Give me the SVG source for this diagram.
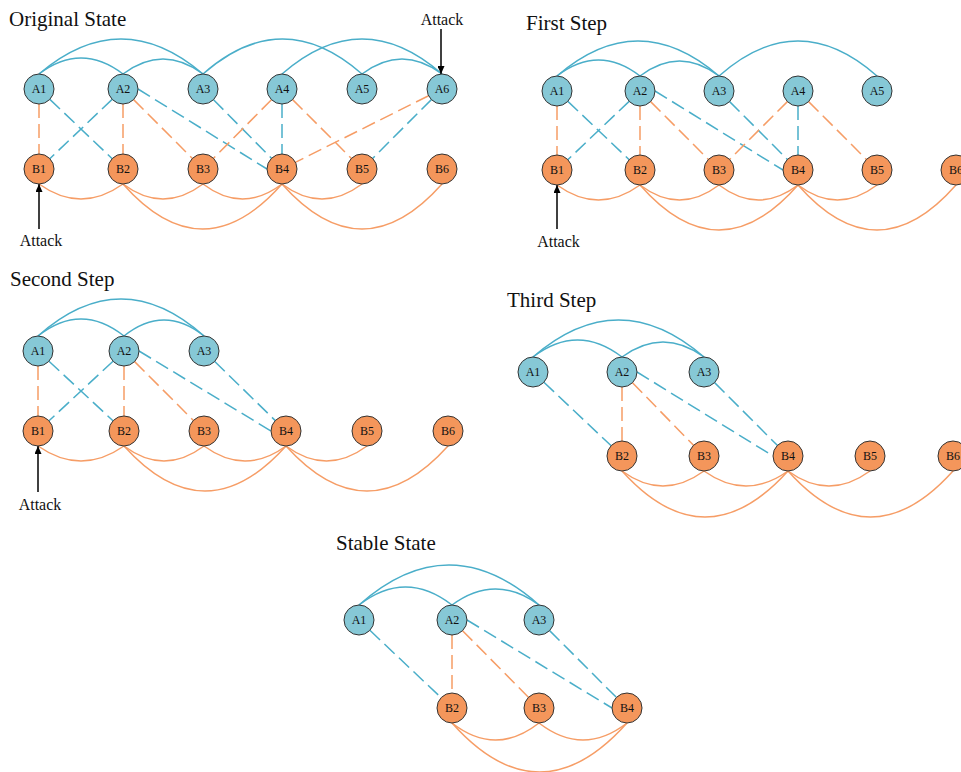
<svg xmlns="http://www.w3.org/2000/svg" width="961" height="772" viewBox="0 0 961 772" font-family="'Liberation Serif', 'Times New Roman', Times, 'DejaVu Serif', serif">
<defs>
<marker id="ah" markerUnits="userSpaceOnUse" markerWidth="9" markerHeight="7" refX="8" refY="3.5" orient="auto">
<path d="M0,0 L8,3.5 L0,7 z" fill="#000"/>
</marker>
<style>
.na{fill:#86C8D6;stroke:#333;stroke-width:1}
.nb{fill:#F4965B;stroke:#333;stroke-width:1}
text{font-family:'Liberation Serif','Times New Roman',Times,'DejaVu Serif',serif}
.lbl{font-size:12px;text-anchor:middle;fill:#111}
.eb{stroke:#4AAEC9;fill:none;stroke-width:1.5}
.eo{stroke:#F69D66;fill:none;stroke-width:1.5}
.dl{stroke-dasharray:14 6;stroke-dashoffset:5}
.ew{stroke-dashoffset:0}
.ttl{font-size:21px;fill:#111}
.atk{font-size:16px;text-anchor:middle;fill:#111}
.arr{stroke:#000;stroke-width:1.5;fill:none;marker-end:url(#ah)}
</style>
</defs>
<rect width="961" height="772" fill="#fff"/>

<!-- Panel 1: Original State -->
<g id="p1">
<text class="ttl" x="9" y="26">Original State</text>
<g id="p1-connectors">
<path class="eb" d="M39,74 Q81,42 123,74"/>
<path class="eb" d="M39,74 Q121,4 203,74"/>
<path class="eb" d="M123,74 Q163,44 203,74"/>
<path class="eb" d="M203,74 Q282.5,4 362,74"/>
<path class="eb" d="M282,74 Q362,4 442,74"/>
<path class="eb" d="M362,74 Q402,44 442,74"/>
<path class="eo" d="M39,184 Q81,214 123,184"/>
<path class="eo" d="M123,184 Q163,214 203,184"/>
<path class="eo" d="M203,184 Q242.5,214 282,184"/>
<path class="eo" d="M123,184 Q202.5,274 282,184"/>
<path class="eo" d="M282,184 Q322,214 362,184"/>
<path class="eo" d="M282,184 Q362,274 442,184"/>
<line class="eo dl" x1="39" y1="89" x2="39" y2="169"/>
<line class="eb dl" x1="39" y1="89" x2="123" y2="169"/>
<line class="eb dl" x1="123" y1="89" x2="39" y2="169"/>
<line class="eo dl" x1="123" y1="89" x2="123" y2="169"/>
<line class="eo dl" x1="123" y1="89" x2="203" y2="169"/>
<line class="eb dl ew" x1="138" y1="89" x2="267" y2="169"/>
<line class="eb dl" x1="203" y1="89" x2="282" y2="169"/>
<line class="eo dl" x1="282" y1="89" x2="203" y2="169"/>
<line class="eb dl" x1="282" y1="89" x2="282" y2="169"/>
<line class="eo dl" x1="282" y1="89" x2="362" y2="169"/>
<line class="eo dl" x1="442" y1="89" x2="282" y2="169"/>
<line class="eb dl" x1="442" y1="89" x2="362" y2="169"/>
<line class="arr" x1="441" y1="29" x2="441" y2="74"/>
<line class="arr" x1="39" y1="229" x2="39" y2="184"/>
</g>
<text class="atk" x="442" y="25">Attack</text>
<text class="atk" x="41" y="246">Attack</text>
<g id="p1-A1"><circle class="na" cx="39" cy="89" r="15"/><text class="lbl" x="39" y="93">A1</text></g>
<g id="p1-A2"><circle class="na" cx="123" cy="89" r="15"/><text class="lbl" x="123" y="93">A2</text></g>
<g id="p1-A3"><circle class="na" cx="203" cy="89" r="15"/><text class="lbl" x="203" y="93">A3</text></g>
<g id="p1-A4"><circle class="na" cx="282" cy="89" r="15"/><text class="lbl" x="282" y="93">A4</text></g>
<g id="p1-A5"><circle class="na" cx="362" cy="89" r="15"/><text class="lbl" x="362" y="93">A5</text></g>
<g id="p1-A6"><circle class="na" cx="442" cy="89" r="15"/><text class="lbl" x="442" y="93">A6</text></g>
<g id="p1-B1"><circle class="nb" cx="39" cy="169" r="15"/><text class="lbl" x="39" y="173">B1</text></g>
<g id="p1-B2"><circle class="nb" cx="123" cy="169" r="15"/><text class="lbl" x="123" y="173">B2</text></g>
<g id="p1-B3"><circle class="nb" cx="203" cy="169" r="15"/><text class="lbl" x="203" y="173">B3</text></g>
<g id="p1-B4"><circle class="nb" cx="282" cy="169" r="15"/><text class="lbl" x="282" y="173">B4</text></g>
<g id="p1-B5"><circle class="nb" cx="362" cy="169" r="15"/><text class="lbl" x="362" y="173">B5</text></g>
<g id="p1-B6"><circle class="nb" cx="442" cy="169" r="15"/><text class="lbl" x="442" y="173">B6</text></g>
</g>

<!-- Panel 2: First Step -->
<g id="p2">
<text class="ttl" x="526" y="29.5">First Step</text>
<g id="p2-connectors">
<path class="eb" d="M557,76 Q598.5,44 640,76"/>
<path class="eb" d="M557,76 Q638,6 719,76"/>
<path class="eb" d="M640,76 Q679.5,46 719,76"/>
<path class="eb" d="M719,76 Q798,6 877,76"/>
<path class="eo" d="M557,185 Q598.5,215 640,185"/>
<path class="eo" d="M640,185 Q679.5,215 719,185"/>
<path class="eo" d="M719,185 Q758.5,215 798,185"/>
<path class="eo" d="M640,185 Q719,275 798,185"/>
<path class="eo" d="M798,185 Q837.5,215 877,185"/>
<path class="eo" d="M798,185 Q877,275 956,185"/>
<line class="eo dl" x1="557" y1="91" x2="557" y2="170"/>
<line class="eb dl" x1="557" y1="91" x2="640" y2="170"/>
<line class="eb dl" x1="640" y1="91" x2="557" y2="170"/>
<line class="eo dl" x1="640" y1="91" x2="640" y2="170"/>
<line class="eo dl" x1="640" y1="91" x2="719" y2="170"/>
<line class="eb dl ew" x1="655" y1="91" x2="783" y2="170"/>
<line class="eb dl" x1="719" y1="91" x2="798" y2="170"/>
<line class="eo dl" x1="798" y1="91" x2="719" y2="170"/>
<line class="eb dl" x1="798" y1="91" x2="798" y2="170"/>
<line class="eo dl" x1="798" y1="91" x2="877" y2="170"/>
<line class="arr" x1="557" y1="229" x2="557" y2="185"/>
</g>
<text class="atk" x="558.5" y="247">Attack</text>
<g id="p2-A1"><circle class="na" cx="557" cy="91" r="15"/><text class="lbl" x="557" y="95">A1</text></g>
<g id="p2-A2"><circle class="na" cx="640" cy="91" r="15"/><text class="lbl" x="640" y="95">A2</text></g>
<g id="p2-A3"><circle class="na" cx="719" cy="91" r="15"/><text class="lbl" x="719" y="95">A3</text></g>
<g id="p2-A4"><circle class="na" cx="798" cy="91" r="15"/><text class="lbl" x="798" y="95">A4</text></g>
<g id="p2-A5"><circle class="na" cx="877" cy="91" r="15"/><text class="lbl" x="877" y="95">A5</text></g>
<g id="p2-B1"><circle class="nb" cx="557" cy="170" r="15"/><text class="lbl" x="557" y="174">B1</text></g>
<g id="p2-B2"><circle class="nb" cx="640" cy="170" r="15"/><text class="lbl" x="640" y="174">B2</text></g>
<g id="p2-B3"><circle class="nb" cx="719" cy="170" r="15"/><text class="lbl" x="719" y="174">B3</text></g>
<g id="p2-B4"><circle class="nb" cx="798" cy="170" r="15"/><text class="lbl" x="798" y="174">B4</text></g>
<g id="p2-B5"><circle class="nb" cx="877" cy="170" r="15"/><text class="lbl" x="877" y="174">B5</text></g>
<g id="p2-B6"><circle class="nb" cx="956" cy="170" r="15"/><text class="lbl" x="956" y="174">B6</text></g>
</g>

<!-- Panel 3: Second Step -->
<g id="p3">
<text class="ttl" x="10" y="286">Second Step</text>
<g id="p3-connectors">
<path class="eb" d="M38,336 Q81,302 124,336"/>
<path class="eb" d="M38,336 Q121,262 204,336"/>
<path class="eb" d="M124,336 Q164,304 204,336"/>
<path class="eo" d="M38,446 Q81,476 124,446"/>
<path class="eo" d="M124,446 Q164,476 204,446"/>
<path class="eo" d="M204,446 Q245,476 286,446"/>
<path class="eo" d="M124,446 Q205,536 286,446"/>
<path class="eo" d="M286,446 Q326.5,476 367,446"/>
<path class="eo" d="M286,446 Q367,536 448,446"/>
<line class="eo dl" x1="38" y1="351" x2="38" y2="431"/>
<line class="eb dl" x1="38" y1="351" x2="124" y2="431"/>
<line class="eb dl" x1="124" y1="351" x2="38" y2="431"/>
<line class="eo dl" x1="124" y1="351" x2="124" y2="431"/>
<line class="eo dl" x1="124" y1="351" x2="204" y2="431"/>
<line class="eb dl ew" x1="139" y1="351" x2="271" y2="431"/>
<line class="eb dl" x1="204" y1="351" x2="286" y2="431"/>
<line class="arr" x1="38" y1="492" x2="38" y2="446"/>
</g>
<text class="atk" x="40" y="510">Attack</text>
<g id="p3-A1"><circle class="na" cx="38" cy="351" r="15"/><text class="lbl" x="38" y="355">A1</text></g>
<g id="p3-A2"><circle class="na" cx="124" cy="351" r="15"/><text class="lbl" x="124" y="355">A2</text></g>
<g id="p3-A3"><circle class="na" cx="204" cy="351" r="15"/><text class="lbl" x="204" y="355">A3</text></g>
<g id="p3-B1"><circle class="nb" cx="38" cy="431" r="15"/><text class="lbl" x="38" y="435">B1</text></g>
<g id="p3-B2"><circle class="nb" cx="124" cy="431" r="15"/><text class="lbl" x="124" y="435">B2</text></g>
<g id="p3-B3"><circle class="nb" cx="204" cy="431" r="15"/><text class="lbl" x="204" y="435">B3</text></g>
<g id="p3-B4"><circle class="nb" cx="286" cy="431" r="15"/><text class="lbl" x="286" y="435">B4</text></g>
<g id="p3-B5"><circle class="nb" cx="367" cy="431" r="15"/><text class="lbl" x="367" y="435">B5</text></g>
<g id="p3-B6"><circle class="nb" cx="448" cy="431" r="15"/><text class="lbl" x="448" y="435">B6</text></g>
</g>

<!-- Panel 4: Third Step -->
<g id="p4">
<text class="ttl" x="507" y="307">Third Step</text>
<g id="p4-connectors">
<path class="eb" d="M533,357 Q577.5,323 622,357"/>
<path class="eb" d="M533,357 Q618.5,283 704,357"/>
<path class="eb" d="M622,357 Q663,327 704,357"/>
<path class="eo" d="M622,471 Q663,501 704,471"/>
<path class="eo" d="M704,471 Q746,501 788,471"/>
<path class="eo" d="M622,471 Q705,563 788,471"/>
<path class="eo" d="M788,471 Q829,501 870,471"/>
<path class="eo" d="M788,471 Q870.5,563 953,471"/>
<line class="eb dl" x1="533" y1="372" x2="622" y2="456"/>
<line class="eo dl" x1="622" y1="372" x2="622" y2="456"/>
<line class="eo dl" x1="622" y1="372" x2="704" y2="456"/>
<line class="eb dl ew" x1="637" y1="372" x2="773" y2="456"/>
<line class="eb dl" x1="704" y1="372" x2="788" y2="456"/>
</g>
<g id="p4-A1"><circle class="na" cx="533" cy="372" r="15"/><text class="lbl" x="533" y="376">A1</text></g>
<g id="p4-A2"><circle class="na" cx="622" cy="372" r="15"/><text class="lbl" x="622" y="376">A2</text></g>
<g id="p4-A3"><circle class="na" cx="704" cy="372" r="15"/><text class="lbl" x="704" y="376">A3</text></g>
<g id="p4-B2"><circle class="nb" cx="622" cy="456" r="15"/><text class="lbl" x="622" y="460">B2</text></g>
<g id="p4-B3"><circle class="nb" cx="704" cy="456" r="15"/><text class="lbl" x="704" y="460">B3</text></g>
<g id="p4-B4"><circle class="nb" cx="788" cy="456" r="15"/><text class="lbl" x="788" y="460">B4</text></g>
<g id="p4-B5"><circle class="nb" cx="870" cy="456" r="15"/><text class="lbl" x="870" y="460">B5</text></g>
<g id="p4-B6"><circle class="nb" cx="953" cy="456" r="15"/><text class="lbl" x="953" y="460">B6</text></g>
</g>

<!-- Panel 5: Stable State -->
<g id="p5">
<text class="ttl" x="336" y="550">Stable State</text>
<g id="p5-connectors">
<path class="eb" d="M359,605 Q405.5,569 452,605"/>
<path class="eb" d="M359,605 Q449,525 539,605"/>
<path class="eb" d="M452,605 Q495.5,573 539,605"/>
<path class="eo" d="M452,723 Q495.5,757 539,723"/>
<path class="eo" d="M539,723 Q583,757 627,723"/>
<path class="eo" d="M452,723 Q539.5,821 627,723"/>
<line class="eb dl" x1="359" y1="620" x2="452" y2="708"/>
<line class="eo dl" x1="452" y1="620" x2="452" y2="708"/>
<line class="eo dl" x1="452" y1="620" x2="539" y2="708"/>
<line class="eb dl ew" x1="467" y1="620" x2="612" y2="708"/>
<line class="eb dl" x1="539" y1="620" x2="627" y2="708"/>
</g>
<g id="p5-A1"><circle class="na" cx="359" cy="620" r="15"/><text class="lbl" x="359" y="624">A1</text></g>
<g id="p5-A2"><circle class="na" cx="452" cy="620" r="15"/><text class="lbl" x="452" y="624">A2</text></g>
<g id="p5-A3"><circle class="na" cx="539" cy="620" r="15"/><text class="lbl" x="539" y="624">A3</text></g>
<g id="p5-B2"><circle class="nb" cx="452" cy="708" r="15"/><text class="lbl" x="452" y="712">B2</text></g>
<g id="p5-B3"><circle class="nb" cx="539" cy="708" r="15"/><text class="lbl" x="539" y="712">B3</text></g>
<g id="p5-B4"><circle class="nb" cx="627" cy="708" r="15"/><text class="lbl" x="627" y="712">B4</text></g>
</g>
</svg>
